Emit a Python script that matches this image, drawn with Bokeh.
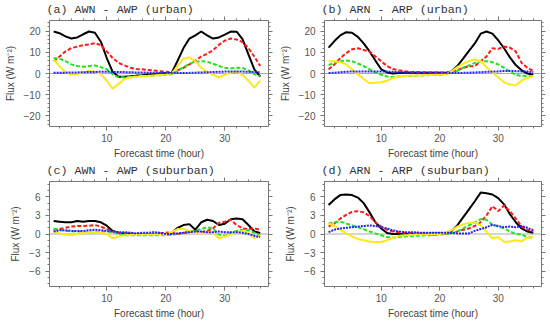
from bokeh.plotting import figure
from bokeh.models import Range1d, LinearAxis, FixedTicker, Span
from bokeh.layouts import gridplot
from bokeh.embed import file_html
from bokeh.resources import INLINE

hours = list(range(1, 37))

# Panel (a) AWN - AWP (urban)
a_black = [19.8, 19.0, 17.5, 16.5, 17.0, 18.5, 19.8, 19.2, 15.0, 7.3, 0.8, -1.5, -1.5, -1.3, -1.0, -0.8, -0.5, -0.3,
           0.0, 0.2, 0.3, 6.0, 12.0, 16.5, 18.0, 19.8, 18.0, 16.5, 17.0, 18.3, 19.8, 19.7, 16.2, 9.0, 2.0, -1.5]
a_red = [5.8, 8.0, 10.4, 12.0, 12.7, 13.4, 13.7, 14.3, 13.4, 10.4, 7.3, 5.0, 3.8, 2.7, 2.1, 2.0, 1.7, 1.4,
         1.1, 0.8, 0.5, 1.5, 2.7, 4.3, 6.1, 8.0, 9.3, 11.0, 13.5, 15.5, 16.5, 16.0, 14.8, 12.0, 8.0, 3.5]
a_green = [7.3, 7.0, 5.8, 4.3, 3.5, 3.2, 3.5, 3.8, 3.0, 2.0, -0.3, -1.8, -1.8, -1.5, -1.4, -1.2, -1.1, -0.9,
           -0.8, -0.6, -0.3, 1.2, 3.0, 4.6, 5.5, 5.8, 5.6, 4.6, 3.5, 2.7, 2.4, 2.7, 2.6, 1.5, -0.3, -1.1]
a_yellow = [6.6, 3.5, 0.5, -0.6, -0.3, 0.6, 1.2, 0.8, -0.3, -3.4, -7.2, -4.9, -2.6, -1.8, -1.5, -1.2, -1.1, -0.9,
            -0.6, -0.5, 0.0, 3.5, 7.0, 7.6, 5.8, 2.7, 0.9, -0.6, -1.8, -0.6, 0.5, 0.9, -0.6, -3.4, -6.7, -3.4]
a_blue = [0.3, 0.35, 0.4, 0.45, 0.5, 0.6, 0.7, 0.75, 0.8, 0.8, 0.75, 0.7, 0.65, 0.6, 0.5, 0.45, 0.4, 0.3,
          0.25, 0.2, 0.2, 0.2, 0.25, 0.3, 0.4, 0.5, 0.6, 0.7, 0.8, 0.9, 0.95, 0.95, 0.9, 0.8, 0.7, 0.6]

# Panel (b) ARN - ARP (urban)
b_black = [12.2, 15.3, 18.0, 19.5, 19.2, 17.3, 14.2, 10.4, 6.1, 2.0, 0.5, 0.0, 0.2, 0.3, 0.4, 0.4, 0.4, 0.4,
           0.3, 0.3, 0.3, 0.9, 3.5, 7.0, 10.7, 14.2, 18.8, 19.8, 18.8, 15.7, 11.9, 7.6, 4.0, 1.5, 0.0, -0.6]
b_red = [2.0, 4.3, 7.3, 9.6, 11.4, 11.9, 11.1, 10.4, 8.0, 5.8, 3.5, 2.1, 1.5, 1.1, 0.8, 0.7, 0.6, 0.6,
         0.5, 0.5, 0.5, 0.8, 1.5, 2.7, 3.4, 3.5, 5.8, 8.0, 11.9, 11.6, 12.7, 12.2, 10.4, 5.0, 2.7, 1.2]
b_green = [4.0, 5.0, 5.8, 6.1, 5.8, 4.7, 3.5, 2.0, 0.5, -0.6, -1.4, -1.7, -1.4, -1.2, -1.1, -1.0, -0.9, -0.8,
           -0.7, -0.6, -0.3, 0.3, 1.2, 2.7, 3.8, 5.0, 5.8, 5.8, 5.3, 4.3, 2.7, 0.9, -0.6, -1.1, -1.2, -1.5]
b_yellow = [5.8, 5.8, 5.3, 4.3, 2.0, -0.3, -2.6, -4.6, -4.4, -4.1, -3.4, -2.1, -1.5, -1.2, -1.0, -0.9, -0.8, -0.7,
            -0.6, -0.5, -0.3, 0.9, 3.0, 4.6, 5.8, 6.6, 5.8, 3.0, 0.5, -1.8, -4.1, -5.2, -5.6, -3.4, -2.1, -1.1]
b_blue = [0.2, 0.4, 0.6, 0.8, 1.0, 1.0, 1.0, 1.0, 1.0, 0.9, 0.9, 0.8, 0.7, 0.6, 0.5, 0.45, 0.4, 0.35,
          0.3, 0.3, 0.25, 0.2, 0.2, 0.3, 0.4, 0.5, 0.6, 0.8, 0.9, 1.0, 1.2, 1.2, 1.1, 1.0, 0.9, 0.7]

# Panel (c) AWN - AWP (suburban)
c_black = [2.1, 2.0, 1.9, 1.9, 2.1, 2.0, 2.1, 2.1, 1.9, 1.35, 0.5, 0.2, 0.1, 0.05, 0.0, 0.0, 0.0, 0.0,
           0.0, 0.05, 0.15, 1.0, 1.45, 1.6, 0.7, 1.9, 2.3, 2.1, 1.45, 1.65, 2.4, 2.5, 2.4, 1.45, 0.4, 0.15]
c_red = [0.7, 0.8, 1.0, 1.2, 1.3, 1.3, 1.35, 1.45, 1.2, 0.8, 0.4, 0.2, 0.1, 0.05, 0.05, 0.0, 0.0, 0.0,
         0.1, 0.25, 0.2, 0.0, 0.15, 0.3, 0.5, 0.3, 0.5, 0.9, 1.8, 2.0, 2.3, 1.45, 0.9, 0.8, 0.9, 0.7]
c_green = [0.8, 0.7, 0.5, 0.45, 0.4, 0.35, 0.3, 0.3, 0.35, 0.4, 0.3, 0.0, -0.2, -0.2, -0.2, -0.2, -0.2, -0.2,
           -0.2, -0.2, -0.1, 0.0, 0.2, 0.4, 0.5, 0.8, 1.1, 0.9, -0.1, -0.3, 0.2, 0.5, 0.7, 0.6, 0.2, -0.2]
c_yellow = [0.4, 0.1, -0.1, -0.2, 0.0, 0.2, 0.3, 0.3, 0.2, 0.0, -0.7, -0.4, -0.2, -0.15, -0.1, -0.1, -0.1, -0.1,
            -0.1, -0.1, 0.3, 0.8, 0.8, 0.5, 0.2, 0.1, 0.2, 0.2, -0.7, -0.4, -0.1, 0.3, 0.5, 0.2, -0.7, -0.2]
c_blue = [0.4, 0.6, 0.6, 0.5, 0.5, 0.5, 0.6, 0.7, 0.6, 0.5, 0.4, 0.3, 0.3, 0.2, 0.1, 0.2, 0.2, 0.3,
          0.2, 0.0, 0.0, 0.1, 0.2, 0.3, 0.4, 0.4, 0.3, 0.3, 0.4, 0.3, 0.3, 0.3, 0.2, 0.0, -0.3, -0.5]

# Panel (d) ARN - ARP (suburban)
d_black = [4.7, 5.6, 6.3, 6.4, 6.3, 5.9, 5.0, 3.5, 1.9, 0.9, 0.15, 0.0, 0.0, 0.0, 0.0, 0.05, 0.05, 0.05,
           0.1, 0.1, 0.15, 0.5, 1.4, 2.7, 4.0, 5.3, 6.7, 6.6, 6.4, 5.8, 4.8, 3.2, 1.9, 0.9, 0.4, 0.2]
d_red = [1.2, 1.7, 2.5, 3.1, 3.6, 3.7, 3.5, 2.9, 1.9, 1.2, 0.7, 0.4, 0.3, 0.2, 0.15, 0.1, 0.1, 0.0,
         -0.1, 0.0, 0.1, 0.15, 0.4, 0.7, 0.9, 1.3, 1.9, 3.0, 4.5, 3.7, 4.6, 3.7, 2.5, 1.2, 0.7, 0.4]
d_green = [1.7, 1.9, 2.0, 1.7, 1.4, 1.1, 0.8, 0.4, 0.1, -0.2, -0.5, -0.6, -0.5, -0.4, -0.35, -0.3, -0.25, -0.2,
           -0.15, -0.1, 0.0, 0.1, 0.4, 0.9, 1.4, 1.9, 2.4, 2.3, 1.5, 1.2, 0.9, 0.4, 0.0, -0.1, -0.5, -0.6]
d_yellow = [1.7, 1.3, 0.7, 0.1, -0.4, -0.8, -1.0, -1.2, -1.3, -1.3, -1.0, -0.6, -0.3, -0.2, -0.15, -0.1, -0.1, -0.05,
            0.0, 0.0, 0.2, 0.6, 1.2, 1.6, 1.8, 1.9, 1.4, 0.4, -0.7, -0.5, -1.3, -1.2, -1.0, -1.2, -0.6, -0.4]
d_blue = [0.3, 0.7, 0.9, 1.0, 1.1, 1.2, 1.3, 1.4, 1.3, 1.1, 0.9, 0.6, 0.4, 0.3, 0.3, 0.25, 0.2, 0.2,
          0.2, 0.2, 0.2, 0.2, 0.1, 0.1, 0.1, 0.5, 0.8, 1.1, 1.5, 1.3, 1.1, 1.2, 1.1, 1.3, 1.0, 0.6]

titles = ["(a) AWN - AWP (urban)", "(b) ARN - ARP (urban)",
          "(c) AWN - AWP (suburban)", "(d) ARN - ARP (suburban)"]
x_major = [10, 20, 30]
x_minor = list(range(2, 37, 2))
y_major_urban = [-20, -10, 0, 10, 20]
y_minor_urban = list(range(-24, 25, 2))
y_major_sub = [-6, -3, 0, 3, 6]
y_minor_sub = list(range(-8, 9, 1))

STYLES = [("#000000", None), ("#ff1a1a", "4 2"), ("#1ee61e", "4 2"), ("#ffe81a", None), ("#2424ff", "2 1")]
GRAY = "#777777"
TXT = "#444444"
FONT = "Liberation Sans"


def minus(v):
    return ("\u2212%d" % (-v)) if v < 0 else str(v)


def style_axis(ax, show):
    ax.axis_line_color = None
    ax.major_tick_line_color = GRAY
    ax.minor_tick_line_color = GRAY
    ax.major_tick_in = 0
    ax.major_tick_out = 4
    ax.minor_tick_in = 0
    ax.minor_tick_out = 2
    if show:
        ax.major_label_text_font = FONT
        ax.major_label_text_font_size = "10px"
        ax.major_label_text_color = "#555555"
        ax.axis_label_text_font = FONT
        ax.axis_label_text_font_size = "10px"
        ax.axis_label_text_font_style = "normal"
        ax.axis_label_text_color = TXT
    else:
        ax.major_label_text_color = None
        ax.major_label_standoff = 0


def panel(title, series, yr, ymaj, ymin, W, H, L, R, T, B):
    p = figure(width=W, height=H, x_range=Range1d(0.3, 37.4), y_range=Range1d(-yr, yr),
               output_backend="svg", toolbar_location=None, tools="",
               min_border_left=L, min_border_right=R, min_border_top=T, min_border_bottom=B,
               x_axis_label="Forecast time (hour)", y_axis_label="Flux (W m\u207b\u00b2)")
    p.xgrid.visible = False
    p.ygrid.visible = False
    p.outline_line_color = GRAY
    p.outline_line_width = 1
    p.xaxis.ticker = FixedTicker(ticks=x_major, minor_ticks=x_minor)
    p.yaxis.ticker = FixedTicker(ticks=ymaj, minor_ticks=ymin)
    p.yaxis.major_label_overrides = {v: minus(v) for v in ymaj}
    style_axis(p.xaxis[0], True)
    style_axis(p.yaxis[0], True)
    p.xaxis.major_label_standoff = 3
    p.xaxis.axis_label_standoff = 3
    p.yaxis.major_label_standoff = 5
    p.yaxis.axis_label_standoff = 5
    top = LinearAxis(ticker=FixedTicker(ticks=x_major, minor_ticks=x_minor))
    right = LinearAxis(ticker=FixedTicker(ticks=ymaj, minor_ticks=ymin))
    style_axis(top, False)
    style_axis(right, False)
    p.add_layout(top, "above")
    p.add_layout(right, "right")
    p.add_layout(Span(location=0, dimension="width", line_color="#aaaaaa", line_width=1, level="underlay"))
    for vals, (col, dash) in zip(series, STYLES):
        kw = {} if dash is None else {"line_dash": dash}
        p.line(hours, vals, line_color=col, line_width=2, **kw)
    p.title.text = title
    p.title.text_font = "Liberation Mono"
    p.title.text_font_size = "11.7px"
    p.title.text_font_style = "normal"
    p.title.text_color = "#333333"
    p.title.text_line_height = 1.0
    p.title.align = "left"
    p.title.offset = -3
    p.title.standoff = 0
    return p


pa = panel(titles[0], [a_black, a_red, a_green, a_yellow, a_blue], 25, y_major_urban, y_minor_urban,
           276, 161, 49, 8, 18, 33)
pb = panel(titles[1], [b_black, b_red, b_green, b_yellow, b_blue], 25, y_major_urban, y_minor_urban,
           272, 161, 44, 7, 18, 33)
pc = panel(titles[2], [c_black, c_red, c_green, c_yellow, c_blue], 8.5, y_major_sub, y_minor_sub,
           276, 160, 49, 8, 18, 33)
pd = panel(titles[3], [d_black, d_red, d_green, d_yellow, d_blue], 8.5, y_major_sub, y_minor_sub,
           272, 160, 44, 7, 18, 33)

grid = gridplot([[pa, pb], [pc, pd]], toolbar_location=None)
open("out.html", "w").write(file_html(grid, INLINE))
